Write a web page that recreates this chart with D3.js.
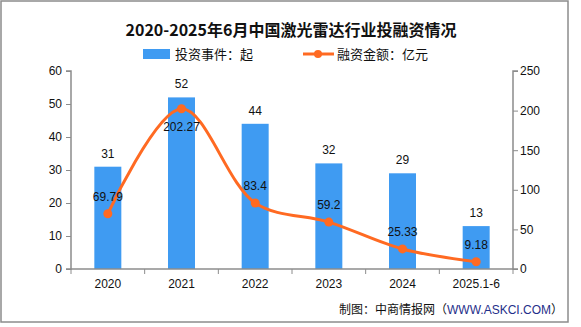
<!DOCTYPE html>
<html><head><meta charset="utf-8">
<script src="https://cdn.jsdelivr.net/npm/d3@7"></script>
<style>body{margin:0;background:#fff}svg{display:block}</style>
</head><body>
<script>
const categories = ["2020","2021","2022","2023","2024","2025.1-6"];
const events = [31,52,44,32,29,13];
const amounts = [69.79,202.27,83.4,59.2,25.33,9.18];
const amountLabels = ["69.79","202.27","83.4","59.2","25.33","9.18"];
const leftTicks = [0,10,20,30,40,50,60];
const rightTicks = [0,50,100,150,200,250];

(function(){
const W=581,H=327;
const svg=d3.select("body").append("svg").attr("width",W).attr("height",H);
svg.append("rect").attr("x",1).attr("y",1).attr("width",567).attr("height",321)
  .attr("fill","#fff").attr("stroke","#8c8c8c").attr("stroke-width",1.5);

const FONT="'Liberation Sans','DejaVu Sans',sans-serif";
const CJK="'Noto Sans CJK SC','Noto Sans',sans-serif";
const pL=71,pR=513,pT=71,pB=269;
const x=d3.scaleBand().domain(categories).range([pL,pR]);
const yL=d3.scaleLinear().domain([0,60]).range([pB,pT]);
const yR=d3.scaleLinear().domain([0,250]).range([pB,pT]);
const axisColor="#8c8c8c";

svg.append("text").attr("x",291).attr("y",36).attr("text-anchor","middle")
  .attr("font-family",CJK).attr("font-weight","bold").attr("font-size",16).attr("fill","#111")
  .text("2020-2025年6月中国激光雷达行业投融资情况");

svg.append("rect").attr("x",143).attr("y",49).attr("width",27).attr("height",10).attr("fill","#3f9bf2");
svg.append("text").attr("x",175).attr("y",59).attr("font-family",CJK).attr("font-size",13).attr("fill","#111").text("投资事件：起");
svg.append("line").attr("x1",303).attr("x2",334).attr("y1",54).attr("y2",54).attr("stroke","#ff6a22").attr("stroke-width",3);
svg.append("circle").attr("cx",318).attr("cy",54).attr("r",4).attr("fill","#ff6a22");
svg.append("text").attr("x",337).attr("y",59).attr("font-family",CJK).attr("font-size",13).attr("fill","#111").text("融资金额：亿元");

const bw=27;
svg.selectAll("rect.bar").data(events).enter().append("rect").attr("class","bar")
  .attr("x",(d,i)=>x(categories[i])+x.bandwidth()/2-bw/2)
  .attr("y",d=>yL(d)).attr("width",bw).attr("height",d=>pB-yL(d)).attr("fill","#3f9bf2");

const gL=svg.append("g").attr("transform",`translate(${pL},0)`)
  .call(d3.axisLeft(yL).tickValues(leftTicks).tickSize(5).tickPadding(4));
const gR=svg.append("g").attr("transform",`translate(${pR},0)`)
  .call(d3.axisRight(yR).tickValues(rightTicks).tickSize(5).tickPadding(2));
const gB=svg.append("g").attr("transform",`translate(0,${pB})`)
  .call(d3.axisBottom(x).tickSize(0).tickPadding(10));
const bounds=categories.map(c=>x(c)).concat([pR]);
gB.selectAll("line.bt").data(bounds).enter().append("line").attr("class","bt")
  .attr("x1",d=>d).attr("x2",d=>d).attr("y1",0).attr("y2",5).attr("stroke",axisColor);
[gL,gR,gB].forEach(g=>{
  g.select(".domain").attr("stroke",axisColor).attr("stroke-width",1.5);
  g.selectAll(".tick line").attr("stroke",axisColor);
  g.selectAll("text").attr("font-family",FONT).attr("font-size",12).attr("fill","#111");
});
gR.select(".domain").attr("d",`M5,${pT}H0V${pB}H5`);
gL.select(".domain").attr("d",`M-5,${pT}H0V${pB}H-5`);
gB.select(".domain").attr("d",`M${pL},0H${pR}`);

svg.selectAll("text.bv").data(events).enter().append("text").attr("class","bv")
  .attr("x",(d,i)=>x(categories[i])+x.bandwidth()/2).attr("y",d=>yL(d)-9)
  .attr("text-anchor","middle").attr("font-family",FONT).attr("font-size",12).attr("fill","#111").text(d=>d);

const pts=amounts.map((d,i)=>[x(categories[i])+x.bandwidth()/2,yR(d)]);
svg.append("path").attr("d",d3.line().curve(d3.curveCatmullRom.alpha(0.5))(pts))
  .attr("fill","none").attr("stroke","#ff6a22").attr("stroke-width",3);
svg.selectAll("circle.pt").data(pts).enter().append("circle").attr("class","pt")
  .attr("cx",d=>d[0]).attr("cy",d=>d[1]).attr("r",4.5).attr("fill","#ff6a22");
svg.selectAll("text.lv").data(amounts).enter().append("text").attr("class","lv")
  .attr("x",(d,i)=>pts[i][0]).attr("y",(d,i)=>i===1?pts[i][1]+22:pts[i][1]-13)
  .attr("text-anchor","middle").attr("font-family",FONT).attr("font-size",12).attr("fill","#111")
  .text((d,i)=>amountLabels[i]);

const ft=svg.append("text").attr("x",563).attr("y",314).attr("text-anchor","end")
  .attr("font-family",CJK).attr("font-size",12).attr("fill","#111");
ft.append("tspan").text("制图：中商情报网（");
ft.append("tspan").attr("fill","#1f2f8a").attr("font-family",FONT).text("WWW.ASKCI.COM");
ft.append("tspan").text("）");
})();
</script>
</body></html>
